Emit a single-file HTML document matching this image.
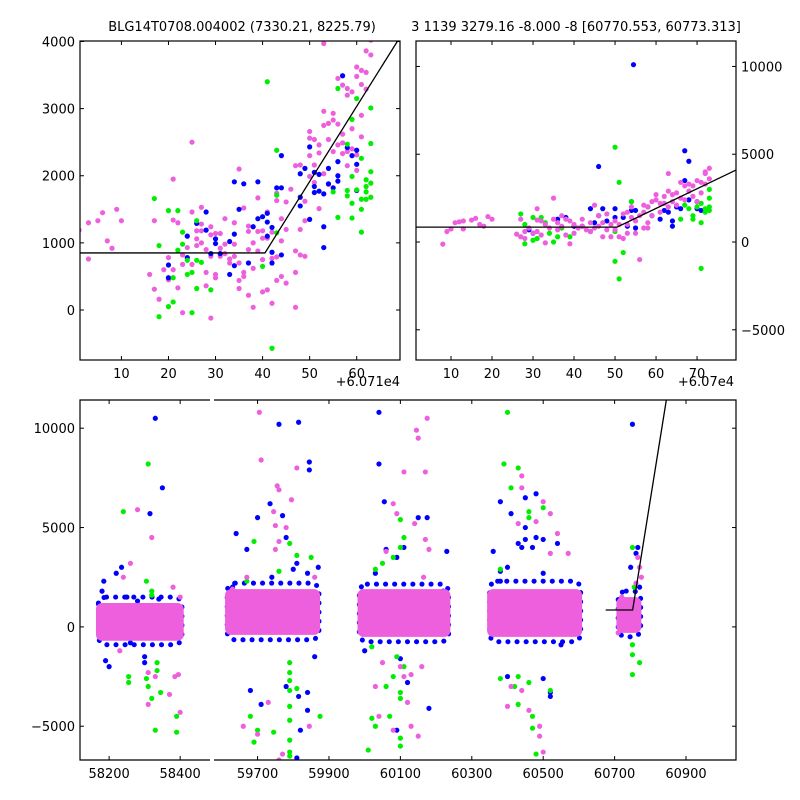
<!DOCTYPE html>
<html><head><meta charset="utf-8"><style>
body{margin:0;background:#fff}
svg{display:block;font-family:"DejaVu Sans","Liberation Sans",sans-serif}
</style></head><body>
<svg id="chart" width="800" height="800" viewBox="0 0 800 800" xmlns="http://www.w3.org/2000/svg">
<rect width="800" height="800" fill="#fff"/>
<text x="242" y="31" font-size="13" text-anchor="middle">BLG14T0708.004002 (7330.21, 8225.79)</text>
<text x="576" y="31" font-size="13" text-anchor="middle">3 1139 3279.16 -8.000 -8 [60770.553, 60773.313]</text>
<g id="layer"></g>
</svg>
<script>
// ---------- data ----------
const fitBase = 850, fitT0 = 60750.5, fitSlope = 112, fitStart = 60675;
// top-left (offset 60710)
const tlPink = [[1,1190],[3,760],[3,1300],[5,1330],[6,1450],[7,1030],[8,920],[9,1500],[10,1330],[16,530],[17,1330],[17,310],[18,160],[19,600],[20,780],[20,450],[21,1950],[21,1340],[21,600],[22,1300],[22,330],[23,-40],[23,820],[23,680],[24,1100],[24,930],[25,1460],[25,680],[25,2500],[26,1180],[26,1060],[26,960],[27,1530],[27,1180],[27,1000],[27,1280],[28,900],[28,560],[28,360],[29,1240],[29,800],[29,1120],[29,-120],[30,1140],[30,530],[30,480],[31,1140],[31,920],[31,800],[32,1360],[32,980],[32,840],[33,700],[33,760],[34,1300],[34,980],[34,800],[35,2100],[35,440],[35,320],[35,700],[36,1520],[36,560],[36,500],[37,1250],[37,1170],[37,220],[37,900],[38,620],[38,40],[38,1000],[39,1670],[39,1170],[39,880],[40,1070],[40,1180],[40,270],[40,750],[41,1460],[41,300],[41,1070],[42,100],[42,770],[42,1160],[43,1740],[43,1630],[43,440],[43,790],[44,1360],[44,1030],[44,500],[45,1200],[45,1610],[45,400],[46,1800],[47,2150],[47,880],[47,560],[47,40],[48,2160],[48,1200],[48,820],[49,1620],[49,1330],[49,800],[50,2660],[50,2560],[50,2300],[50,1990],[51,2160],[51,1900],[51,2540],[52,2460],[52,2340],[52,1510],[53,2960],[53,2750],[53,2030],[53,3970],[54,2780],[54,2540],[54,1870],[55,2930],[55,2360],[55,2830],[56,3450],[56,2460],[56,2770],[57,3350],[57,2620],[57,2490],[57,2330],[58,3300],[58,3200],[58,2360],[58,2150],[59,3250],[59,2700],[59,2400],[60,3620],[60,3480],[60,2080],[60,2310],[61,3570],[61,3360],[61,2900],[61,2580],[62,3540],[62,3290],[62,3860],[63,3800],[63,4020]];
const tlBlue = [[20,670],[20,480],[24,780],[24,1100],[26,1290],[28,1460],[28,1190],[29,840],[30,1060],[30,990],[31,840],[33,1020],[33,530],[34,1910],[34,660],[34,1130],[35,1500],[36,1880],[37,700],[38,1240],[39,1910],[39,1360],[40,1390],[41,1440],[41,1310],[41,1100],[42,860],[42,1230],[42,700],[43,1820],[44,1820],[44,2300],[44,820],[48,2030],[48,1680],[48,1550],[49,2110],[50,2430],[50,1350],[51,2050],[51,1840],[51,1750],[52,2020],[52,1770],[53,1730],[53,1240],[53,930],[54,2110],[54,1880],[55,1820],[56,2210],[56,1920],[56,2000],[57,3490],[58,2420],[59,2300],[60,2380],[60,2170],[60,1780]];
const tlGreen = [[17,1660],[18,960],[18,-100],[20,1480],[20,50],[21,480],[21,120],[22,890],[22,1480],[23,1160],[23,980],[24,740],[24,530],[25,560],[25,-40],[26,1330],[26,740],[26,320],[27,710],[29,300],[40,650],[41,3400],[42,-570],[43,2380],[43,1710],[43,1150],[55,1760],[56,3300],[56,1380],[58,2470],[58,1780],[58,1700],[59,2840],[59,1990],[59,1590],[59,1370],[60,3150],[60,1790],[61,2260],[61,1160],[61,1650],[61,1500],[62,1840],[62,1760],[62,1650],[62,1940],[63,3010],[63,2480],[63,2060],[63,1890],[63,1680]];
// top-right (offset 60700)
const trPink = [[8,-120],[9,600],[10,750],[11,1100],[12,1150],[13,1200],[13,750],[15,1250],[16,1350],[17,1000],[18,900],[19,1450],[20,1300],[26,450],[27,1300],[27,300],[28,200],[28,600],[29,800],[30,500],[31,1900],[31,1250],[31,600],[32,1200],[32,400],[33,-50],[33,1000],[34,800],[35,2500],[35,1300],[36,1100],[36,700],[37,1500],[37,900],[38,1300],[38,400],[39,-100],[39,1200],[40,1000],[40,500],[41,800],[42,1300],[42,900],[43,700],[44,1100],[44,600],[45,2100],[45,800],[46,1500],[46,900],[47,300],[47,1100],[48,700],[48,1600],[49,1000],[49,300],[50,1200],[50,700],[51,300],[51,1000],[52,1600],[52,200],[53,1700],[53,1000],[53,500],[54,2000],[54,1400],[55,1200],[55,500],[56,-1000],[56,1500],[57,2100],[57,800],[57,1700],[58,2000],[58,1100],[58,800],[59,2300],[59,1500],[60,2700],[60,2400],[61,2200],[61,1700],[62,2600],[62,2200],[63,2900],[63,3900],[63,2000],[64,2700],[64,2300],[65,2800],[65,2100],[66,3400],[66,2500],[67,3200],[67,2400],[68,3300],[68,2900],[69,3200],[69,2600],[70,3500],[70,2300],[71,3400],[71,2800],[72,4000],[72,3300],[73,4200],[73,3600],[72,3900]];
const trBlue = [[29,700],[30,500],[36,1300],[38,1400],[40,900],[42,900],[44,600],[44,1900],[45,1100],[46,4300],[46,1500],[47,1900],[48,1200],[50,1900],[50,1400],[52,1400],[53,900],[54,1800],[54,2300],[55,1800],[55,800],[58,2000],[59,1500],[61,1300],[62,1800],[63,1700],[64,1200],[64,900],[65,2000],[66,1900],[67,5200],[67,3500],[68,4600],[68,2400],[70,1900],[70,2300],[71,1800],[54.5,10100]];
const trGreen = [[27,1600],[28,1000],[28,-100],[30,1400],[30,100],[31,200],[32,1400],[33,1100],[34,500],[35,0],[36,300],[37,800],[39,300],[50,5400],[50,600],[50,-1100],[51,3400],[51,-2100],[52,-600],[54,2300],[66,1300],[67,2100],[68,1900],[69,1500],[69,1300],[70,2000],[71,-1500],[71,1100],[71,2200],[72,1700],[72,1900],[73,3000],[73,2500],[73,2000],[73,1800]];
// bottom: dense season cores [start, end, low, high]
const seasonCores = [[58163,58410,-700,1200],[59609,59875,-400,1900],[59980,60240,-500,1900],[60343,60609,-500,1900],[60705,60775,-300,1500]];
// sparse blue rim around each core [start, end, low, high]
const seasonHalo = [[58170,58405,-900,1500],[59615,59872,-650,2200],[59985,60235,-750,2150],[60350,60605,-750,2300],[60710,60773,-500,1800]];
const botBlue = [[58330,10500],[58350,7000],[58315,5700],[58235,3000],[58220,2700],[58185,2300],[58180,1800],[58340,1400],[58200,-2000],[58300,-1500],[58300,-1800],[58260,-800],[58190,-1700],[58250,1500],[58280,1300],[58390,1000],[58170,1200],[59760,10200],[59815,10300],[59845,8300],[59845,7900],[59735,6200],[59770,5600],[59780,4500],[59700,5500],[59640,4700],[59670,3900],[59810,3200],[59870,3000],[59800,2900],[59840,2700],[59740,2500],[59840,-3300],[59860,-1500],[59680,-3200],[59710,-3900],[59780,-3000],[59815,-3500],[59840,-4200],[59820,-5200],[59810,-6600],[59785,1500],[59785,800],[59785,0],[59630,2000],[60040,10800],[60040,8200],[60055,6300],[60150,5500],[60175,5500],[60110,4000],[60230,3800],[60090,3500],[60060,3900],[60030,2700],[60000,-1200],[60100,-1600],[60120,-2800],[60180,-4100],[60090,-5200],[60220,1800],[60210,1200],[60380,6300],[60450,6500],[60480,6700],[60410,5700],[60450,5000],[60450,4400],[60480,4500],[60430,4200],[60440,4000],[60470,4000],[60500,4400],[60540,4200],[60400,3000],[60380,2800],[60360,3800],[60500,2700],[60550,-900],[60500,-2600],[60400,-2500],[60520,-3300],[60520,-3500],[60380,2300],[60590,1500],[60590,800],[60750,10200],[60760,3700],[60765,4000],[60745,3000],[60770,2000]];
const botGreen = [[58310,8200],[58240,5800],[58305,2300],[58320,1800],[58320,1600],[58255,-2500],[58255,-2800],[58305,-2600],[58310,-3000],[58320,-3600],[58345,-3300],[58330,-5200],[58390,-4500],[58390,-5300],[58335,-2200],[58335,-1800],[59690,4300],[59790,4200],[59810,3600],[59850,3500],[59760,2800],[59670,2300],[59810,-3100],[59875,-4500],[59790,-1800],[59790,-2300],[59790,-2700],[59790,-3200],[59790,-4000],[59790,-4700],[59790,-5700],[59790,-6300],[59790,-6500],[59680,-4500],[59700,-5200],[59690,-5800],[59745,-5300],[60100,5400],[60110,4500],[60100,4000],[60080,3500],[60050,3200],[60030,2900],[60020,-1000],[60090,-1500],[60110,-2000],[60080,-2500],[60060,-3000],[60100,-3300],[60100,-3600],[60020,-4600],[60070,-4500],[60030,-5000],[60100,-5600],[60010,-6200],[60100,-6000],[60400,10800],[60390,8200],[60430,8000],[60410,7000],[60500,6000],[60460,5500],[60380,2900],[60460,5800],[60430,-2500],[60460,-2800],[60420,-3000],[60380,-2600],[60470,-4500],[60430,-3900],[60470,-5100],[60480,-6400],[60520,-3200],[60750,4000],[60755,2000],[60750,-900],[60750,-1400],[60750,-2400],[60770,-1800],[60720,800]];
const botPink = [[58280,5900],[58320,4500],[58260,3200],[58240,2500],[58380,2000],[58400,1500],[58370,-3400],[58395,-2400],[58385,-2500],[58330,-2500],[58310,-3900],[58230,-1200],[58310,-2300],[58400,-4300],[59705,10800],[59710,8400],[59810,8000],[59755,7100],[59760,6900],[59795,6400],[59750,5100],[59760,4300],[59745,5800],[59780,5000],[59750,3900],[59670,2500],[59860,2500],[59630,1900],[59730,-3800],[59660,-5000],[59700,-5400],[59845,-5000],[59760,-6700],[59770,-6400],[60175,10500],[60145,9900],[60150,9500],[60110,7800],[60170,7800],[60080,6200],[60090,5700],[60140,5200],[60170,4400],[60180,3900],[60060,3800],[60165,2500],[60050,-1800],[60100,-2000],[60110,-2500],[60130,-2400],[60160,-2000],[60030,-3000],[60120,-3800],[60040,-4500],[60080,-5200],[60130,-5000],[60150,-5500],[60440,7600],[60440,7000],[60500,6300],[60520,5700],[60540,4700],[60430,5200],[60480,5300],[60570,3700],[60520,3700],[60400,-4000],[60440,-3200],[60460,-4200],[60490,-5000],[60490,-5500],[60500,-6300],[60410,-3000],[60720,1500],[60730,1000],[60770,3000],[60775,2500],[60710,-300],[60765,3500],[60760,2200]];
const tlXTicks=[10,20,30,40,50,60], tlYTicks=[0,1000,2000,3000,4000];
const trXTicks=[10,20,30,40,50,60,70], trYTicks=[-5000,0,5000,10000];
const blXTicks=[58200,58400], brXTicks=[59700,59900,60100,60300,60500,60700,60900], bYTicks=[-5000,0,5000,10000];

// ---------- drawing ----------
const NS="http://www.w3.org/2000/svg";
const layer=document.getElementById('layer');
const COL={pink:'#ee5fdd',blue:'#0000ff',green:'#00ee00'};
function el(tag,attrs,parent){const e=document.createElementNS(NS,tag);for(const k in attrs)e.setAttribute(k,attrs[k]);(parent||layer).appendChild(e);return e;}
function scale(d0,d1,p0,p1){return v=>p0+(v-d0)*(p1-p0)/(d1-d0);}
function clipFor(id,x,y,w,h){const c=el('clipPath',{id:id});el('rect',{x:x,y:y,width:w,height:h},c);}
function fitVal(t){return t<fitT0?fitBase:fitBase+(t-fitT0)*fitSlope;}
function drawPts(g,arr,col,sx,sy,off){arr.forEach(p=>{const c=el('circle',{cx:sx(p[0]+off),cy:sy(p[1]),r:2.6,fill:col},g);

});}
function tickX(g,ticks,sx,y0,y1,labels){ticks.forEach(t=>{const x=sx(t);
el('line',{x1:x,y1:y1,x2:x,y2:y1-4,stroke:'#000'},g);el('line',{x1:x,y1:y0,x2:x,y2:y0+4,stroke:'#000'},g);
if(labels){const tx=el('text',{x:x,y:y1+18,'font-size':13,'text-anchor':'middle'},g);tx.textContent=t;

}});}
function tickY(g,ticks,sy,x0,x1,side,sides){ticks.forEach(t=>{const y=sy(t);
if(sides.includes('l'))el('line',{x1:x0,y1:y,x2:x0+4,y2:y,stroke:'#000'},g);
if(sides.includes('r'))el('line',{x1:x1,y1:y,x2:x1-4,y2:y,stroke:'#000'},g);
if(side){const tx=el('text',{x:side==='l'?x0-5:x1+5,y:y+5,'font-size':13,'text-anchor':side==='l'?'end':'start'},g);tx.textContent=t<0?'\u2212'+(-t):t;

}});}

// top-left panel
(function(){const x0=80,x1=400,y0=41,y1=360;const sx=scale(1.2,69.2,x0,x1),sy=scale(-745,4000,y1,y0+0.5);
const g=el('g',{});
clipFor('c1',x0,y0,x1-x0,y1-y0);const pg=el('g',{'clip-path':'url(#c1)'},g);
drawPts(pg,tlPink,COL.pink,sx,sy,0);drawPts(pg,tlBlue,COL.blue,sx,sy,0);drawPts(pg,tlGreen,COL.green,sx,sy,0);
const ts=[1.2,fitT0-60710,69.2];const fl=el('polyline',{points:ts.map(t=>sx(t)+','+sy(fitVal(t+60710))).join(' '),fill:'none',stroke:'#000','stroke-width':1.3},pg);

el('rect',{x:x0,y:y0,width:x1-x0,height:y1-y0,fill:'none',stroke:'#000','stroke-width':1.2},g);
tickX(g,tlXTicks,sx,y0,y1,true);tickY(g,tlYTicks,sy,x0,x1,'l','lr');
const o=el('text',{x:x1,y:386,'font-size':13,'text-anchor':'end'},g);o.textContent='+6.071e4';
})();

// top-right panel
(function(){const x0=416,x1=736,y0=41,y1=360;const sx=scale(1.46,79.5,x0,x1),sy=scale(-6720,11450,y1,y0);
const g=el('g',{});
clipFor('c2',x0,y0,x1-x0,y1-y0);const pg=el('g',{'clip-path':'url(#c2)'},g);
drawPts(pg,trBlue,COL.blue,sx,sy,0);drawPts(pg,trGreen,COL.green,sx,sy,0);drawPts(pg,trPink,COL.pink,sx,sy,0);
const ts=[1.46,fitT0-60700,79.5];const fl=el('polyline',{points:ts.map(t=>sx(t)+','+sy(fitVal(t+60700))).join(' '),fill:'none',stroke:'#000','stroke-width':1.3},pg);

el('rect',{x:x0,y:y0,width:x1-x0,height:y1-y0,fill:'none',stroke:'#000','stroke-width':1.2},g);
tickX(g,trXTicks,sx,y0,y1,true);tickY(g,trYTicks,sy,x0,x1,'r','lr');
const o=el('text',{x:x1-2,y:386,'font-size':13,'text-anchor':'end'},g);o.textContent='+6.07e4';
})();

// bottom panel (broken axis)
(function(){const y0=400,y1=760;const sy=scale(-6700,11420,y1,y0);
const sxL=scale(58118,58484,80,210), sxR=scale(59578,61040,214,736);
const g=el('g',{});
clipFor('c3',80,y0,130,y1-y0);clipFor('c4',214,y0,522,y1-y0);
const gl=el('g',{'clip-path':'url(#c3)'},g), gr=el('g',{'clip-path':'url(#c4)'},g);
[[gl,sxL],[gr,sxR]].forEach(([pg,sx])=>{
 seasonHalo.forEach(s=>{const r=el('rect',{x:sx(s[0]),y:sy(s[3]),width:sx(s[1])-sx(s[0]),height:sy(s[2])-sy(s[3]),rx:8,fill:'none',stroke:COL.blue,'stroke-width':5,'stroke-linecap':'round','stroke-dasharray':'0.1 9'},pg);
 });
 drawPts(pg,botBlue,COL.blue,sx,sy,0);drawPts(pg,botGreen,COL.green,sx,sy,0);
 seasonCores.forEach(s=>{const r=el('rect',{x:sx(s[0]),y:sy(s[3]),width:sx(s[1])-sx(s[0]),height:sy(s[2])-sy(s[3]),rx:6,fill:COL.pink},pg);
 });
 drawPts(pg,botPink,COL.pink,sx,sy,0);
 const tEnd=fitT0+(11420-fitBase)/fitSlope+5;const ts=[fitStart,fitT0,tEnd];
 const fl=el('polyline',{points:ts.map(t=>sx(t)+','+sy(fitVal(t))).join(' '),fill:'none',stroke:'#000','stroke-width':1.3},pg);
 });
el('polyline',{points:'210,400 80,400 80,760 210,760',fill:'none',stroke:'#000','stroke-width':1.2},g);
el('polyline',{points:'214,400 736,400 736,760 214,760',fill:'none',stroke:'#000','stroke-width':1.2},g);
tickX(g,blXTicks,sxL,y0,y1,true);tickX(g,brXTicks,sxR,y0,y1,true);
tickY(g,bYTicks,sy,80,736,'l','lr');})();
</script>
</body></html>
